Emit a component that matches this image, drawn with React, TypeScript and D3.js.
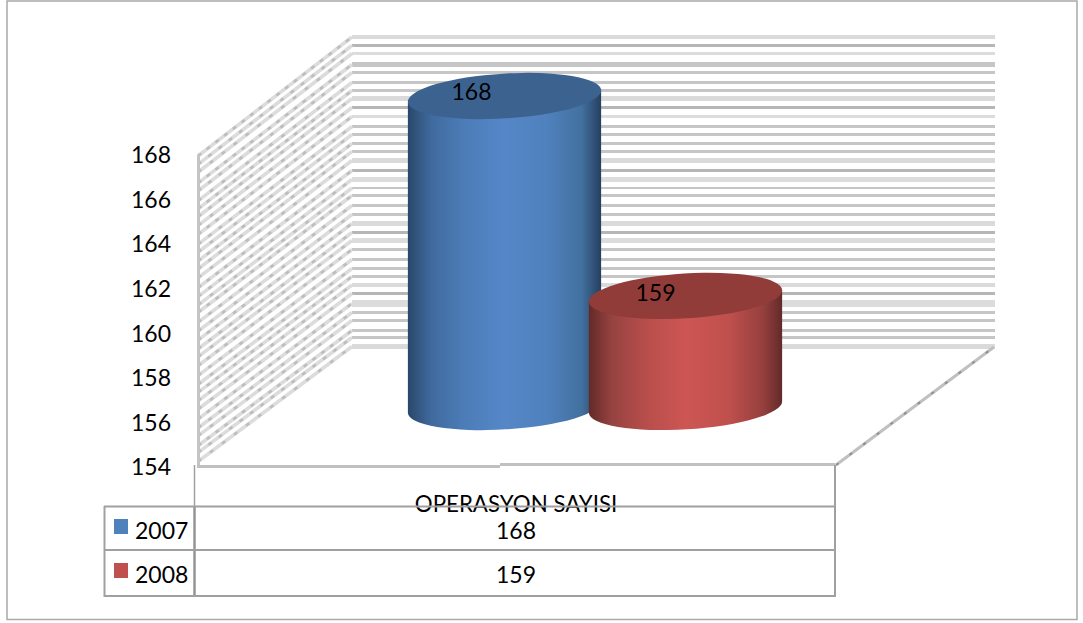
import React from "react";
import * as d3 from "d3";

const seriesNames = ["2007", "2008"];
const seriesValues = [168, 159];
const category = "OPERASYON SAYISI";
const tickLabels = [154, 156, 158, 160, 162, 164, 166, 168];
const swatchColors = ["#4f81bd", "#c0504d"];
const topColors = ["#3c6390", "#923c39"];
const gradientStops = [
  ["#2a4769", "#3f6a9e", "#4d7db8", "#5587c8", "#4f81bd", "#42709f", "#263f60"],
  ["#632a28", "#964341", "#b84e4b", "#cd5654", "#c0504d", "#96403e", "#632a28"],
];
const stopOffsets = [0, 0.12, 0.3, 0.5, 0.72, 0.9, 1];

// Back-wall gridline bands: top, thickness, grey
const bandTops = [35,44,52,62,71,81,89,96,106,115,125,133,142,150,158,169,177,187,194,204,213,221,231,238,248,258,267,275,283,292,300,311,319,329,336,344];
const bandHeights = [4,3,3,5,3,3,3,5,3,3,3,3,3,3,5,3,5,2,3,3,3,5,3,5,3,3,3,3,4,3,7,3,3,3,3,5];
const bandGreys = ["#dadada","#b6b6b6","#dcdcdc","#c6c6c6","#c6c6c6","#c6c6c6","#c6c6c6","#dadada","#b6b6b6","#dcdcdc","#c6c6c6","#c6c6c6","#c6c6c6","#c6c6c6","#dadada","#b6b6b6","#dcdcdc","#c6c6c6","#c6c6c6","#c6c6c6","#c6c6c6","#dadada","#b6b6b6","#dcdcdc","#c6c6c6","#c6c6c6","#c6c6c6","#c6c6c6","#dadada","#b6b6b6","#dcdcdc","#c6c6c6","#c6c6c6","#c6c6c6","#c6c6c6","#dadada"];

const FONT = "Lato, Carlito, Calibri, sans-serif";
const labelShiftX = [-33, -30];
const labelShiftY = [4, 5];

export default function App() {
  const axisY = d3.scaleLinear().domain([154, 168]).range([467, 155]);
  const barY = d3.scaleLinear().domain([154, 168]).range([407, 96]);
  const backToFront = d3.scaleLinear().domain([36, 350]).range([155, 465]);
  const barX = d3.scaleOrdinal<string, number>().domain(seriesNames).range([504.5, 685.5]);

  const wallX0 = 198, wallX1 = 352, wallX2 = 995;
  const rx = 96.8, ry = 22.4, rot = -3.5;
  const dx = rx * Math.cos((rot * Math.PI) / 180);
  const dy = -rx * Math.sin((rot * Math.PI) / 180);

  return (
    <svg width={1083} height={623} style={{ position: "absolute", left: 0, top: 0, display: "block", background: "#fff" }}>
      <defs>
        {seriesNames.map((s, i) => (
          <linearGradient key={s} id={`g${i}`} x1="0" x2="1" y1="0" y2="0">
            {gradientStops[i].map((c, j) => (
              <stop key={j} offset={stopOffsets[j]} stopColor={c} />
            ))}
          </linearGradient>
        ))}
      </defs>

      <rect x={7} y={1} width={1070} height={618.5} fill="#fff" stroke="#a9a9a9" strokeWidth={1.5} />

      {/* back wall */}
      <g shapeRendering="crispEdges">
        {bandTops.map((t, i) => (
          <rect key={i} x={wallX1} y={t} width={wallX2 - wallX1} height={bandHeights[i]} fill={bandGreys[i]} />
        ))}
      </g>

      {/* left wall */}
      <g fill="none">
        {bandTops.map((t, i) => (
          <g key={i}>
            <line
              x1={wallX0}
              y1={backToFront(t + bandHeights[i] / 2)}
              x2={wallX1}
              y2={t + bandHeights[i] / 2}
              stroke="#dcdcdc"
              strokeWidth={3.6}
            />
            <line
              x1={wallX0}
              y1={backToFront(t + bandHeights[i] / 2)}
              x2={wallX1}
              y2={t + bandHeights[i] / 2}
              stroke="#bdbdbd"
              strokeWidth={2.6}
              strokeDasharray={`4 ${7 + (i % 3) * 2}`}
            />
          </g>
        ))}
      </g>
      <rect x={197} y={155} width={3} height={310} fill="#c4c4c4" />

      {/* floor */}
      <line x1={836} y1={465} x2={994} y2={347} stroke="#c0c0c0" strokeWidth={3} />
      <line x1={836} y1={465} x2={994} y2={347} stroke="#8f8f8f" strokeWidth={2} strokeDasharray="3 14" />
      <rect x={197} y={465} width={303} height={3} fill="#c0c0c0" />
      <rect x={500} y={463} width={335} height={3} fill="#c0c0c0" />

      {/* cylinders */}
      {seriesValues.map((v, i) => {
        const cx = barX(seriesNames[i]);
        const topY = barY(v);
        const baseY = barY(154);
        const body = `M${cx - dx},${topY + dy} L${cx - dx},${baseY + dy} A${rx},${ry} ${rot} 0 0 ${cx + dx},${baseY - dy} L${cx + dx},${topY - dy} Z`;
        return (
          <g key={seriesNames[i]}>
            <path d={body} fill={`url(#g${i})`} />
            <ellipse cx={cx} cy={topY} rx={rx} ry={ry} transform={`rotate(${rot} ${cx} ${topY})`} fill={topColors[i]} />
          </g>
        );
      })}
      {seriesValues.map((v, i) => (
        <text key={i} x={barX(seriesNames[i]) + labelShiftX[i]} y={barY(v) + labelShiftY[i]} textAnchor="middle" fontFamily={FONT} fontSize={23} fill="#000">
          {v}
        </text>
      ))}

      {/* axis labels */}
      {tickLabels.map((t) => (
        <text key={t} x={171} y={axisY(t)} dy="0.36em" textAnchor="end" fontFamily={FONT} fontSize={23} fill="#000">
          {t}
        </text>
      ))}

      {/* data table */}
      <text x={516} y={512} textAnchor="middle" fontFamily={FONT} fontSize={22.3} fill="#000">
        {category}
      </text>
      <g stroke="#a0a0a0" fill="none">
        <line x1={194.5} y1={465} x2={194.5} y2={507} strokeWidth={1.5} />
        <line x1={194.5} y1={506} x2={194.5} y2={597} strokeWidth={2.5} stroke="#949494" />
        <line x1={835} y1={465} x2={835} y2={597} strokeWidth={2} />
        <line x1={104.5} y1={506} x2={104.5} y2={597} strokeWidth={2} />
        <line x1={104} y1={506.5} x2={835.5} y2={506.5} strokeWidth={2} />
        <line x1={104} y1={550} x2={835.5} y2={550} strokeWidth={2} />
        <line x1={104} y1={596} x2={835.5} y2={596} strokeWidth={2} />
      </g>
      {seriesNames.map((s, i) => {
        const rowY = 531 + i * 43.5;
        return (
          <g key={s}>
            <rect x={114} y={519 + i * 44} width={14} height={15} fill={swatchColors[i]} />
            <text x={135} y={rowY} dy="0.36em" fontFamily={FONT} fontSize={23} fill="#000">
              {s}
            </text>
            <text x={516} y={rowY} dy="0.36em" textAnchor="middle" fontFamily={FONT} fontSize={23} fill="#000">
              {seriesValues[i]}
            </text>
          </g>
        );
      })}
    </svg>
  );
}
